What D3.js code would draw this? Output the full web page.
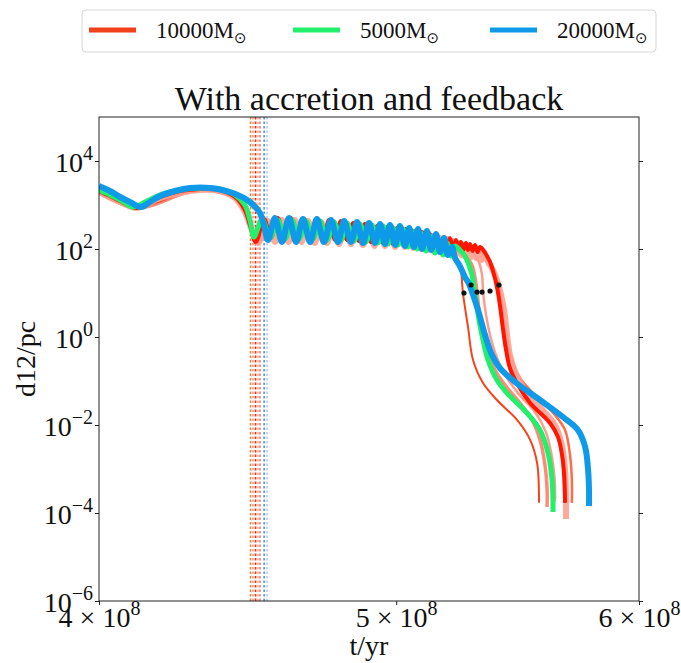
<!DOCTYPE html>
<html>
<head>
<meta charset="utf-8">
<script src="https://cdn.jsdelivr.net/npm/d3@7"></script>
<style>
  body { margin: 0; background: #fff; }
  svg { display: block; font-family: "Liberation Serif", "DejaVu Serif", serif; }
</style>
</head>
<body>
<svg width="681" height="663"></svg>
<script>
// t in units of 1e8 yr, d12 in pc
const run10kA = [[4.000,2080],[4.110,900],[4.315,2310],[4.447,1300],[4.480,411],[4.497,160],[4.531,300],[4.652,270],[4.830,243],[5.014,187],[5.129,137],[5.206,95],[5.238,56],[5.249,33],[5.257,10],[5.277,1.7],[5.297,0.30],[5.337,0.090],[5.393,0.037],[5.475,0.013],[5.529,0.0046],[5.558,0.00137],[5.566,0.00017]];

const run10kB = [[4.000,1970],[4.113,855],[4.315,2190],[4.453,1170],[4.487,300],[4.504,144],[4.548,257],[4.722,243],[4.903,219],[5.090,160],[5.206,105],[5.265,73],[5.293,43],[5.305,22],[5.313,10.5],[5.321,4.1],[5.333,1.44],[5.353,0.51],[5.385,0.178],[5.426,0.081],[5.487,0.0316],[5.537,0.013],[5.570,0.0046],[5.591,0.00123],[5.600,0.00033],[5.600,0.000137]];

const run10kC = [[4.000,2190],[4.107,900],[4.315,2430],[4.457,1110],[4.490,270],[4.507,144],[4.548,270],[4.722,257],[4.903,231],[5.090,178],[5.206,130],[5.285,95],[5.317,56],[5.333,25.6],[5.337,10.5],[5.349,3.16],[5.365,1.11],[5.389,0.39],[5.426,0.137],[5.479,0.053],[5.549,0.0197],[5.595,0.0069],[5.621,0.00178],[5.633,0.00043],[5.633,0.00018]];

const run10kD = [[4.000,2080],[4.113,900],[4.315,2310],[4.447,1370],[4.480,370],[4.500,152],[4.548,285],[4.758,285],[4.940,243],[5.129,178],[5.245,130],[5.325,85],[5.365,51],[5.389,25.6],[5.401,15.2],[5.418,3.16],[5.434,0.85],[5.454,0.30],[5.487,0.117],[5.549,0.048],[5.633,0.0169],[5.676,0.0077],[5.697,0.0021],[5.705,0.00056],[5.705,0.00017]];

const run10kE = [[4.000,1970],[4.064,1170],[4.116,855],[4.188,1440],[4.315,2190],[4.380,2080],[4.430,1440],[4.463,693],[4.484,300],[4.507,137],
  [4.541,433],[4.565,144],[4.589,456],[4.612,144],[4.634,456],[4.657,144],[4.680,433],[4.703,137],[4.726,411],[4.747,137],
  [4.768,411],[4.790,130],[4.812,390],[4.833,130],[4.855,351],[4.877,123],[4.899,333],[4.919,117],[4.940,300],[4.958,117],
  [4.977,285],[4.996,111],[5.014,270],[5.032,111],[5.049,257],[5.064,105],[5.079,231],[5.094,100],[5.109,219],[5.125,95],
  [5.140,197],[5.154,90],[5.167,178],[5.181,85],[5.195,169],[5.206,81],[5.218,152],[5.230,77],[5.241,137],[5.251,73],
  [5.261,123],[5.271,69],[5.281,111],[5.291,66],[5.301,100],[5.311,62],[5.321,90],[5.331,56],[5.341,77],
  [5.357,51],[5.377,33],[5.393,19.7],[5.405,11.7],[5.422,4.1],[5.434,1.11],[5.446,0.39],[5.467,0.160],[5.508,0.062],[5.570,0.0256],[5.633,0.010],[5.663,0.0035],[5.676,0.00095],[5.680,0.000257],[5.680,0.000073]];

const run10kF = [[4.000,2080],[4.033,1600],[4.064,1230],[4.113,855],[4.150,1110],[4.188,1520],[4.251,2080],[4.315,2310],[4.380,2190],[4.430,1520],[4.463,770],[4.480,351],[4.500,144],
  [4.528,481],[4.551,178],[4.575,507],[4.598,178],[4.620,507],[4.643,178],[4.666,481],[4.689,169],[4.711,456],[4.733,169],
  [4.754,456],[4.776,160],[4.797,433],[4.819,160],[4.841,390],[4.862,152],[4.884,370],[4.906,144],[4.929,333],[4.947,144],
  [4.966,316],[4.984,137],[5.003,300],[5.020,137],[5.037,285],[5.052,130],[5.067,257],[5.083,123],[5.098,243],[5.113,123],
  [5.129,219],[5.142,117],[5.156,197],[5.169,111],[5.183,187],[5.195,111],[5.206,178],[5.218,105],[5.230,160],[5.239,100],
  [5.249,144],[5.259,95],[5.269,137],[5.277,95],[5.285,130],[5.295,90],[5.305,123],[5.315,85],[5.325,111],
  [5.341,90],[5.353,69],[5.365,51],[5.377,31.6],[5.393,13.7],[5.405,5.3],[5.418,1.44],[5.430,0.51],[5.446,0.197],[5.479,0.081],[5.529,0.0316],[5.612,0.0111],[5.646,0.0053],[5.663,0.0021],[5.672,0.00073],[5.676,0.00017]];

const run5k = [[4.000,2190],[4.033,1690],[4.064,1300],[4.103,900],[4.141,1170],[4.188,1690],[4.251,2190],[4.315,2430],[4.380,2310],[4.430,1690],[4.463,1000],[4.480,456],[4.494,187],
  [4.521,481],[4.548,178],[4.575,456],[4.600,169],[4.624,456],[4.648,169],[4.673,433],[4.697,169],[4.722,433],[4.747,160],
  [4.772,411],[4.797,160],[4.819,390],[4.844,152],[4.866,370],[4.888,144],[4.910,351],[4.932,137],[4.951,333],[4.969,130],
  [4.988,300],[5.007,123],[5.026,285],[5.045,111],[5.060,257],[5.079,100],[5.094,231],[5.113,90],[5.129,197],[5.148,81],
  [5.164,160],[5.179,73],[5.195,137],[5.210,69],[5.226,117],
  [5.245,95],[5.265,69],[5.281,43],[5.293,25.6],[5.301,13],[5.309,6.9],[5.321,2.4],[5.337,0.85],[5.357,0.30],[5.393,0.105],[5.434,0.053],[5.516,0.0187],[5.570,0.0077],[5.604,0.0023],[5.621,0.00056],[5.625,0.000105]];

const run20k = [[4.000,2700],[4.033,2080],[4.064,1520],[4.094,1170],[4.128,900],[4.156,1170],[4.188,1600],[4.235,2080],[4.283,2430],[4.348,2430],[4.423,1870],[4.480,1170],[4.514,660],[4.528,333],[4.541,160],
  [4.565,507],[4.589,144],[4.613,507],[4.638,144],[4.662,481],[4.687,144],[4.711,481],[4.736,144],[4.761,456],[4.786,144],
  [4.808,433],[4.833,144],[4.855,411],[4.877,137],[4.899,390],[4.921,137],[4.940,370],[4.958,130],[4.977,351],[4.996,123],
  [5.014,333],[5.033,117],[5.049,300],[5.067,111],[5.083,285],[5.098,100],[5.117,257],[5.133,95],[5.152,219],[5.167,85],
  [5.183,178],[5.198,73],[5.214,111],[5.226,62],
  [5.245,41],[5.265,23],[5.281,16],[5.317,4.1],[5.345,1.11],[5.373,0.39],[5.405,0.197],[5.467,0.095],[5.570,0.037],[5.667,0.0152],[5.731,0.0077],[5.762,0.0032],[5.775,0.00095],[5.779,0.00033],[5.779,0.000144]];

// merger times (dotted verticals) and end markers
const mergeTimes = [4.482, 4.490, 4.499, 4.507, 4.514, 4.528, 4.538];
const mergeColors = ["#d98a2b", "#ff9a8a", "#ff2a10", "#ffb4a4", "#ff7a66", "#3aa2ee", "#b9c9f0"];
const markerPoints = [[5.261,10],[5.289,15.2],[5.313,10.5],[5.333,10.5],[5.365,11.1],[5.401,15.2]];

const xTicks = [4e8, 5e8, 6e8];
const xTickMantissa = ["4", "5", "6"];
const yTicks = [1e-6, 1e-4, 1e-2, 1e0, 1e2, 1e4];
const yTickExp = ["\u22126", "\u22124", "\u22122", "0", "2", "4"];

const legendLabels = ["10000", "5000", "20000"];
const legendColors = ["#f2401a", "#22ef6a", "#0e9ae8"];

// drawing order: 10000 runs, then 5000, then 20000
const series = [
  { data: run10kD, color: "#ff6c48", width: 2.5, opacity: 1 },
  { data: run10kC, color: "#ff9c8c", width: 2.5, opacity: 1 },
  { data: run10kB, color: "#ff8a78", width: 3.5, opacity: 1 },
  { data: run10kA, color: "#f5431c", width: 2, opacity: 1 },
  { data: run10kE, color: "#ffa090", width: 6, opacity: 0.9 },
  { data: run10kF, color: "#ff1500", width: 4, opacity: 1 },
  { data: run5k, color: "#22ef6a", width: 5, opacity: 1 },
  { data: run20k, color: "#0e9ae8", width: 6, opacity: 1 }
];

const svg = d3.select("svg");
const margens = { left: 99, right: 42, top: 117, bottom: 62 };
const width = 681, height = 663;
const innerWidth = width - margens.left - margens.right;
const innerHeight = height - margens.top - margens.bottom;

const g = svg.append("g").attr("transform", `translate(${margens.left},${margens.top})`);

const x = d3.scaleLog().domain([4e8, 6e8]).range([0, innerWidth]);
const y = d3.scaleLog().domain([1e-6, 1e5]).range([innerHeight, 0]);

svg.append("defs").append("clipPath").attr("id", "plotClip")
  .append("rect").attr("width", innerWidth).attr("height", innerHeight);

const plot = g.append("g").attr("clip-path", "url(#plotClip)");

// dotted vertical lines
plot.selectAll(".vline")
  .data(mergeTimes)
  .enter()
  .append("line")
  .attr("x1", d => x(d * 1e8)).attr("x2", d => x(d * 1e8))
  .attr("y1", 0).attr("y2", innerHeight)
  .attr("stroke", (d, i) => mergeColors[i])
  .attr("stroke-width", 1.6)
  .attr("stroke-dasharray", "2.5,2");

const line = d3.line()
  .x(d => x(d[0] * 1e8))
  .y(d => y(d[1]))
  .curve(d3.curveCatmullRom.alpha(0.5));

plot.selectAll(".run")
  .data(series)
  .enter()
  .append("path")
  .attr("fill", "none")
  .attr("stroke", d => d.color)
  .attr("stroke-width", d => d.width)
  .attr("stroke-opacity", d => d.opacity)
  .attr("stroke-linejoin", "round")
  .attr("d", d => line(d.data));

plot.selectAll(".marker")
  .data(markerPoints)
  .enter()
  .append("circle")
  .attr("cx", d => x(d[0] * 1e8))
  .attr("cy", d => y(d[1]))
  .attr("r", 2.6)
  .attr("fill", "#111");

// frame
g.append("rect")
  .attr("width", innerWidth).attr("height", innerHeight)
  .attr("fill", "none").attr("stroke", "#222").attr("stroke-width", 1);

// y axis left
const yAxis = g.append("g")
  .call(d3.axisLeft(y).tickValues(yTicks).tickSize(4).tickSizeOuter(0).tickFormat(""))
  .attr("font-family", null).attr("font-size", null);
yAxis.select(".domain").remove();
yAxis.selectAll(".tick line").attr("stroke", "#222");
yAxis.selectAll(".tick text").each(function (d, i) {
  const t = d3.select(this)
    .attr("x", -6).attr("dy", null).attr("y", 10)
    .attr("text-anchor", "end").attr("fill", "#111")
    .style("font-size", "28px");
  t.append("tspan").text("10");
  t.append("tspan").attr("dy", -12).style("font-size", "20px").text(yTickExp[i]);
});

// y axis right (ticks only)
const yAxisR = g.append("g")
  .attr("transform", `translate(${innerWidth},0)`)
  .call(d3.axisRight(y).tickValues(yTicks).tickSize(4).tickSizeOuter(0).tickFormat(""));
yAxisR.select(".domain").remove();
yAxisR.selectAll(".tick line").attr("stroke", "#222");

// x axis
const xAxis = g.append("g")
  .attr("transform", `translate(0,${innerHeight})`)
  .call(d3.axisBottom(x).tickValues(xTicks).tickSize(4).tickSizeOuter(0).tickFormat(""))
  .attr("font-family", null).attr("font-size", null);
xAxis.select(".domain").remove();
xAxis.selectAll(".tick line").attr("stroke", "#222");
xAxis.selectAll(".tick text").each(function (d, i) {
  const t = d3.select(this)
    .attr("y", 26).attr("dy", null)
    .attr("text-anchor", "middle").attr("fill", "#111")
    .style("font-size", "28px");
  t.append("tspan").text(xTickMantissa[i] + " \u00d7 10");
  t.append("tspan").attr("dy", -12).style("font-size", "20px").text("8");
});

// axis labels
svg.append("text")
  .attr("x", margens.left + innerWidth / 2).attr("y", 655)
  .attr("text-anchor", "middle").attr("fill", "#111")
  .style("font-size", "28px")
  .text("t/yr");

svg.append("text")
  .attr("transform", `translate(35,${margens.top + innerHeight / 2}) rotate(-90)`)
  .attr("text-anchor", "middle").attr("fill", "#111")
  .style("font-size", "28px")
  .text("d12/pc");

// title
svg.append("text")
  .attr("x", margens.left + innerWidth / 2).attr("y", 110)
  .attr("text-anchor", "middle").attr("fill", "#111")
  .style("font-size", "34px")
  .text("With accretion and feedback");

// legend
const legend = svg.append("g");
legend.append("rect")
  .attr("x", 82).attr("y", 10).attr("width", 574).attr("height", 42).attr("rx", 4)
  .attr("fill", "#fff").attr("stroke", "#d8d8d8").attr("stroke-width", 1);

const legendX = [89, 293, 490];
const items = legend.selectAll(".item")
  .data(legendLabels)
  .enter()
  .append("g")
  .attr("transform", (d, i) => `translate(${legendX[i]},30)`);

items.append("line")
  .attr("x1", 0).attr("x2", 47).attr("y1", 0).attr("y2", 0)
  .attr("stroke", (d, i) => legendColors[i])
  .attr("stroke-width", 5);

const labels = items.append("text")
  .attr("x", 67).attr("y", 8)
  .attr("fill", "#111")
  .style("font-size", "23px");
labels.append("tspan").text(d => d + "M");
labels.append("tspan").attr("dy", 5).style("font-size", "15px")
  .style("font-family", "DejaVu Sans").text("\u2299");
</script>
</body>
</html>
